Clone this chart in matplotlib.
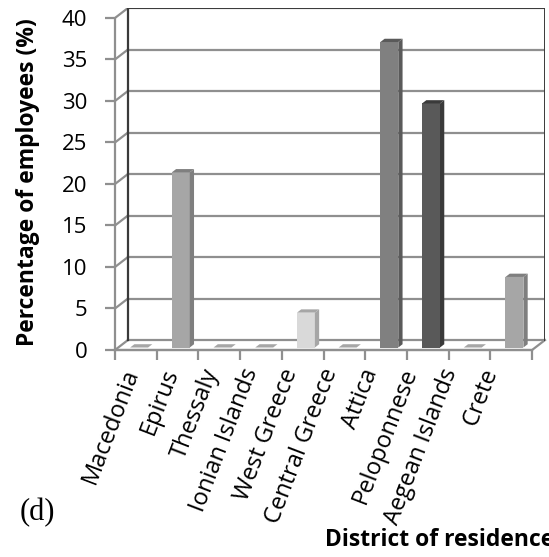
import matplotlib

matplotlib.use("Agg")
import matplotlib.pyplot as plt
import numpy as np
from matplotlib.patches import Polygon

districts = ["Macedonia", "Epirus", "Thessaly", "Ionian Islands", "West Greece",
             "Central Greece", "Attica", "Peloponnese", "Aegean Islands", "Crete"]
percent = [0, 21.1, 0, 0, 4.2, 0, 36.8, 29.4, 0, 8.5]
bar_colors = ["#a6a6a6", "#a6a6a6", "#a6a6a6", "#a6a6a6", "#d9d9d9",
              "#a6a6a6", "#808080", "#595959", "#a6a6a6", "#a6a6a6"]
side_colors = ["#7f7f7f", "#7f7f7f", "#7f7f7f", "#7f7f7f", "#a6a6a6",
               "#7f7f7f", "#5a5a5a", "#3a3a3a", "#7f7f7f", "#7f7f7f"]
yticks = list(range(0, 45, 5))

n = len(districts)
ymax = 40
# depth of the pseudo 3d box in data units
dx, dy = 0.31, 1.2
grid_col = "#8f8f8f"

fig = plt.figure(figsize=(5.49, 5.57), dpi=100)
ax = fig.add_axes([115 / 549, 1 - 350 / 557, 430 / 549, 342 / 557])
ax.set_xlim(0, n + dx)
ax.set_ylim(0, ymax + dy)

# back wall grid and side wall diagonals
for v in yticks:
    ax.plot([dx, n + dx], [v + dy, v + dy], color=grid_col, lw=1.6, zorder=1)
    ax.plot([0, dx], [v, v + dy], color=grid_col, lw=1.6, zorder=1)
ax.plot([dx, dx, n + dx, n + dx], [dy, ymax + dy, ymax + dy, dy],
        color="#3a3a3a", lw=1.4, zorder=2)
ax.plot([dx, dx], [dy, ymax + dy], color="#3a3a3a", lw=1.6, zorder=2)
# floor
ax.plot([0, n, n + dx], [0, 0, dy], color=grid_col, lw=1.6, zorder=1, clip_on=False)

# bars
w = 0.43
f, g = 0.25, 0.33
x = np.arange(n) + 0.5 + f * dx
b = f * dy
ax.bar(x, percent, width=w, bottom=b, color=bar_colors, zorder=3, linewidth=0)
for xi, v, c, sc in zip(x, percent, bar_colors, side_colors):
    x0, x1 = xi - w / 2, xi + w / 2
    side = Polygon([(x1, b), (x1 + g * dx, b + g * dy), (x1 + g * dx, b + v + g * dy), (x1, b + v)],
                   closed=True, facecolor=sc, edgecolor="none", zorder=3)
    top = Polygon([(x0, b + v), (x1, b + v), (x1 + g * dx, b + v + g * dy), (x0 + g * dx, b + v + g * dy)],
                  closed=True, facecolor=sc if v > 0 else c, edgecolor="none", zorder=4)
    ax.add_patch(side)
    ax.add_patch(top)

for s in ["top", "right"]:
    ax.spines[s].set_visible(False)
ax.spines["left"].set_bounds(0, ymax)
ax.spines["bottom"].set_bounds(0, n)
ax.spines["left"].set_color(grid_col)
ax.spines["bottom"].set_color(grid_col)
ax.spines["left"].set_linewidth(1.6)
ax.spines["bottom"].set_linewidth(1.6)

ax.set_yticks(yticks)
ax.set_yticklabels([str(t) for t in yticks], fontsize=16, family="Open Sans")
ax.set_xticks(np.arange(n + 1))
ax.set_xticklabels([])
# labels sit a little closer together than the categories, as in the original
ax.set_xticks(0.42 + 0.955 * np.arange(n), minor=True)
ax.set_xticklabels(districts, minor=True, rotation=69, ha="right", va="center",
                   rotation_mode="anchor", fontsize=17, family="Open Sans")
ax.tick_params(axis="both", which="major", length=7, width=1.6, color=grid_col)
ax.tick_params(axis="y", pad=13)
ax.tick_params(axis="x", which="minor", length=0, pad=14)

ax.set_ylabel("Percentage of employees (%)", fontsize=16.5, fontweight="bold",
              family="Open Sans")
ax.yaxis.set_label_coords(-0.175, 0.49)

fig.text(20 / 549, 1 - 520 / 557, "(d)", fontsize=22, family="Liberation Serif")
fig.text(325 / 549, 1 - 546 / 557, "District of residence", fontsize=16.5,
         fontweight="bold", family="Open Sans")

fig.savefig("out.png", dpi=100)
